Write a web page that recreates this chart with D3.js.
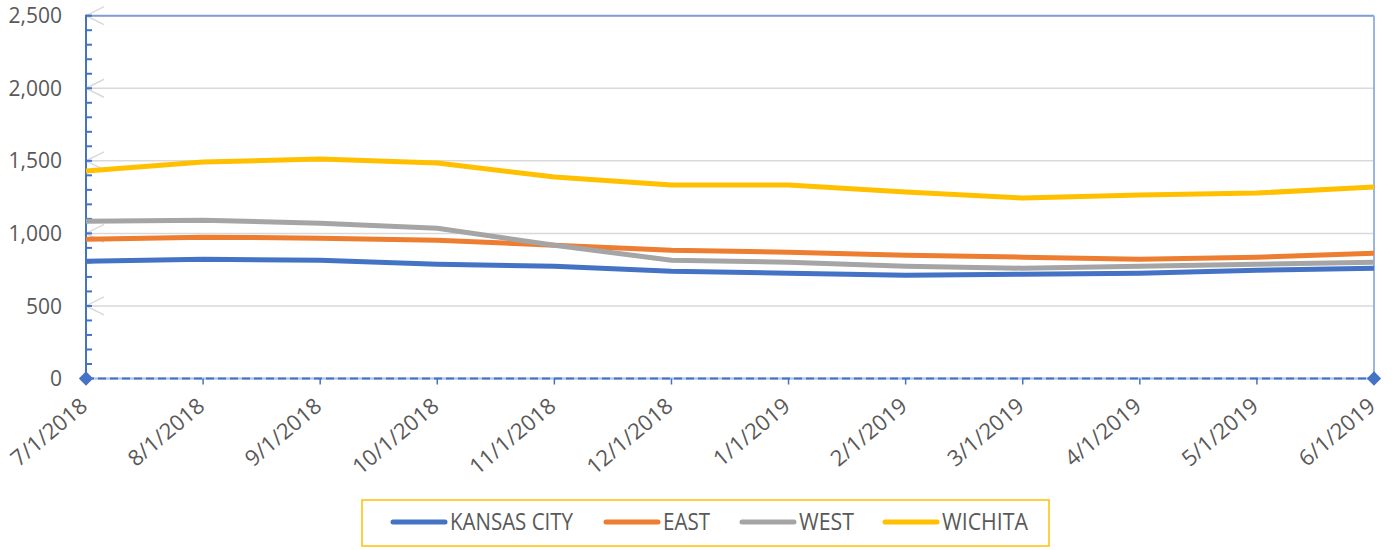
<!DOCTYPE html>
<html>
<head>
<meta charset="utf-8">
<script src="https://cdn.jsdelivr.net/npm/d3@7"></script>
<style>
  body { margin: 0; background: #fff; }
  text { font-family: 'Open Sans', sans-serif; fill: #595959; }
</style>
</head>
<body>
<div class="canvas"></div>
<script>
// data
const dates = ['7/1/2018', '8/1/2018', '9/1/2018', '10/1/2018', '11/1/2018', '12/1/2018',
  '1/1/2019', '2/1/2019', '3/1/2019', '4/1/2019', '5/1/2019', '6/1/2019']
const kansasCity = [808, 822, 815, 787, 773, 739, 725, 711, 718, 725, 746, 760]
const east = [960, 974, 967, 953, 918, 884, 870, 849, 836, 822, 836, 863]
const west = [1084, 1091, 1070, 1036, 918, 815, 801, 773, 760, 773, 787, 801]
const wichita = [1430, 1492, 1512, 1485, 1388, 1333, 1333, 1285, 1243, 1264, 1278, 1319]
const yTicks = [0, 500, 1000, 1500, 2000, 2500]

const series = [
  { name: 'KANSAS CITY', values: kansasCity, color: '#4472C4' },
  { name: 'EAST', values: east, color: '#ED7D31' },
  { name: 'WEST', values: west, color: '#A5A5A5' },
  { name: 'WICHITA', values: wichita, color: '#FFC000' }
]

const dims = { width: 1392, height: 550 }
const plot = { left: 86, right: 1374, top: 15.7, bottom: 378.5 }

const svg = d3.select('.canvas')
  .append('svg')
  .attr('width', dims.width)
  .attr('height', dims.height)

const x = d3.scalePoint()
  .domain(dates)
  .range([plot.left, plot.right])

const y = d3.scaleLinear()
  .domain([0, 2500])
  .range([plot.bottom, plot.top])

// gridlines + the little "<" marks at the left end
const grid = svg.append('g')
grid.selectAll('line.grid')
  .data(yTicks.filter(d => d > 0))
  .enter().append('line')
    .attr('x1', plot.left).attr('x2', plot.right)
    .attr('y1', d => y(d)).attr('y2', d => y(d))
    .attr('stroke', '#D9D9D9')
    .attr('stroke-width', 1.5)
grid.selectAll('path.chev')
  .data(yTicks.filter(d => d > 0))
  .enter().append('path')
    .attr('d', d => `M${plot.left + 18},${y(d) - 9} L${plot.left},${y(d)} L${plot.left + 18},${y(d) + 9}`)
    .attr('fill', 'none')
    .attr('stroke', '#D9D9D9')
    .attr('stroke-width', 1.5)

// top and right border
svg.append('line')
  .attr('x1', plot.left).attr('x2', plot.right)
  .attr('y1', plot.top).attr('y2', plot.top)
  .attr('stroke', '#7F9ED8').attr('stroke-width', 2)
svg.append('line')
  .attr('x1', plot.right).attr('x2', plot.right)
  .attr('y1', plot.top).attr('y2', plot.bottom)
  .attr('stroke', '#9CB4E4').attr('stroke-width', 2)

// y axis: minor ticks every 100
svg.append('g')
  .selectAll('line')
  .data(d3.range(100, 2501, 100))
  .enter().append('line')
    .attr('x1', plot.left).attr('x2', plot.left + 6)
    .attr('y1', d => y(d)).attr('y2', d => y(d))
    .attr('stroke', '#4472C4').attr('stroke-width', 2)
svg.append('line')
  .attr('x1', plot.left).attr('x2', plot.left)
  .attr('y1', plot.top - 1).attr('y2', plot.bottom)
  .attr('stroke', '#4472C4').attr('stroke-width', 2)

svg.append('g')
  .selectAll('text')
  .data(yTicks)
  .enter().append('text')
    .attr('x', 62)
    .attr('y', d => y(d))
    .attr('text-anchor', 'end')
    .attr('dy', '0.36em')
    .attr('font-size', 21)
    .text(d3.format(','))

// x axis: dashed line, ticks, diamonds
svg.append('line')
  .attr('x1', plot.left).attr('x2', plot.right)
  .attr('y1', plot.bottom).attr('y2', plot.bottom)
  .attr('stroke', '#B4C7E7').attr('stroke-width', 2.5)
svg.append('line')
  .attr('x1', plot.left).attr('x2', plot.right)
  .attr('y1', plot.bottom).attr('y2', plot.bottom)
  .attr('stroke', '#4472C4').attr('stroke-width', 2)
  .attr('stroke-dasharray', '8,4')
svg.append('g')
  .selectAll('line')
  .data(dates.slice(1, -1))
  .enter().append('line')
    .attr('x1', d => x(d)).attr('x2', d => x(d))
    .attr('y1', plot.bottom).attr('y2', plot.bottom + 6)
    .attr('stroke', '#4472C4').attr('stroke-width', 1.5)
svg.append('g')
  .selectAll('path')
  .data([dates[0], dates[dates.length - 1]])
  .enter().append('path')
    .attr('d', d3.symbol(d3.symbolDiamond2, 130))
    .attr('transform', d => `translate(${x(d)}, ${plot.bottom})`)
    .attr('fill', '#4472C4')

// rotated date labels (about -40deg, like the excel original)
svg.append('g')
  .selectAll('text')
  .data(dates)
  .enter().append('text')
    .attr('transform', d => `translate(${x(d) + 3}, ${plot.bottom + 30}) rotate(-40)`)
    .attr('text-anchor', 'end')
    .attr('font-size', 22)
    .text(d => d)

// lines
const line = d3.line()
  .x((d, i) => x(dates[i]))
  .y(d => y(d))

svg.append('g')
  .selectAll('path')
  .data(series)
  .enter().append('path')
    .attr('d', d => line(d.values))
    .attr('fill', 'none')
    .attr('stroke', d => d.color)
    .attr('stroke-width', 5)
    .attr('stroke-linejoin', 'round')

// legend
const legend = svg.append('g')
legend.append('rect')
  .attr('x', 362).attr('y', 500)
  .attr('width', 687).attr('height', 46)
  .attr('fill', 'none')
  .attr('stroke', '#FFC000').attr('stroke-width', 1.5)

const legendX = [391, 604, 740, 883]
const legendW = [123, 47, 55, 86]
const items = legend.selectAll('g.item')
  .data(series)
  .enter().append('g')
    .attr('transform', (d, i) => `translate(${legendX[i]}, 522)`)
items.append('line')
  .attr('x1', 2).attr('x2', 54)
  .attr('stroke', d => d.color)
  .attr('stroke-width', 5)
  .attr('stroke-linecap', 'round')
items.append('text')
  .attr('x', 59)
  .attr('dy', '0.36em')
  .attr('font-size', 23)
  .attr('textLength', (d, i) => legendW[i])
  .attr('lengthAdjust', 'spacingAndGlyphs')
  .text(d => d.name)
</script>
</body>
</html>
